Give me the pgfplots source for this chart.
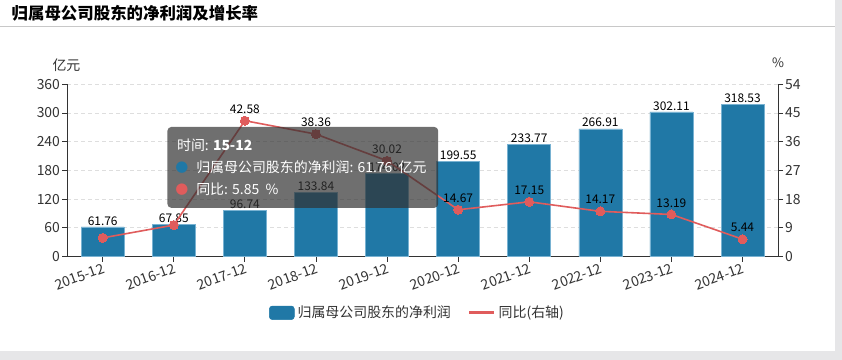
\documentclass[border=0pt]{standalone}
\usepackage{fontspec}
\setmainfont{Noto Sans CJK SC}
\newfontfamily\symfont{DejaVu Sans}
\usepackage{pgfplots}
\usepackage{pgfplotstable}
\pgfplotsset{compat=1.18}
\definecolor{barblue}{RGB}{32,120,166}
\definecolor{baredge}{RGB}{120,178,210}
\definecolor{linered}{RGB}{224,92,92}
\definecolor{axisgray}{RGB}{51,51,51}
\definecolor{gridgray}{RGB}{222,222,222}
\definecolor{bggray}{RGB}{230,230,232}
\definecolor{titleline}{RGB}{200,200,200}
\definecolor{tipgray}{RGB}{50,50,50}

\pgfplotstableread{
x val
0 61.76
1 67.85
2 96.74
3 133.84
4 174.02
5 199.55
6 233.77
7 266.91
8 302.11
9 318.53
}\profit

\pgfplotstableread{
x g
0 5.85
1 9.86
2 42.58
3 38.36
4 30.02
5 14.67
6 17.15
7 14.17
8 13.19
9 5.44
}\growth

\begin{document}
\begin{tikzpicture}[x=1bp,y=1bp]
\fill[white] (0,0) rectangle (842,360);
\fill[bggray] (0,0) rectangle (842,8.3);
\fill[bggray] (835,0) rectangle (842,360);
\draw[titleline, line width=1bp] (0,333.3) -- (835,333.3);
\node[anchor=west, inner sep=0, font=\fontsize{16.5}{18}\selectfont\bfseries] at (11,347) {归属母公司股东的净利润及增长率};

\pgfplotsset{
  common/.style={
    at={(66.7bp,103.3bp)}, anchor=south west,
    scale only axis, width=711.3bp, height=172.4bp,
    xmin=-0.5, xmax=9.5,
    clip=false,
    axis line style={-, axisgray, line width=0.8bp},
    tick style={axisgray, line width=0.8bp},
    major tick length=5bp,
    tick align=outside,
    /pgf/number format/assume math mode=true,
    ticklabel style={font=\fontsize{14}{16}\selectfont, text=axisgray},
  }
}

\begin{axis}[
  common,
  ymin=0, ymax=360,
  ytick={0,60,...,360},
  xtick={0,...,9},
  xticklabels={2015-12,2016-12,2017-12,2018-12,2019-12,2020-12,2021-12,2022-12,2023-12,2024-12},
  axis x line*=bottom, axis y line*=left,
  ymajorgrids,
  grid style={gridgray, dash pattern=on 4bp off 3bp, line width=0.8bp},
  xticklabel style={rotate=20, anchor=north east, inner sep=1bp},
  yticklabel style={inner sep=2bp},
  legend style={at={(0.4935,-0.3266)}, anchor=center, draw=none, fill=none,
    legend columns=2,
    font=\fontsize{14}{16}\selectfont, text=axisgray,
    /tikz/every even column/.append style={column sep=14bp},
    nodes={inner sep=3bp}},
  legend cell align=left,
]
\addplot[ybar, bar width=43bp, fill=barblue, draw=baredge, line width=0.5bp,
  nodes near coords,
  every node near coord/.append style={font=\fontsize{12}{14}\selectfont, text=black, inner sep=0pt, anchor=south, yshift=1.5bp},
  legend image code/.code={\fill[barblue, rounded corners=3bp] (0bp,-6.8bp) rectangle (25bp,6.8bp);}
  ] table[x=x,y=val]{\profit};
\addlegendentry{归属母公司股东的净利润}
\addlegendimage{legend image code/.code={\draw[linered, line width=2.8bp] (0bp,0bp) -- (25bp,0bp);}}
\addlegendentry{同比(右轴)}
\end{axis}

\begin{axis}[
  common,
  ymin=0, ymax=54,
  ytick={0,9,...,54},
  axis y line*=right, axis x line=none,
  yticklabel style={inner sep=2bp},
]
\addplot[linered, line width=1.6bp, mark=*, mark size=4.5bp,
  mark options={fill=linered, draw=linered, line width=0bp}
  ] table[x=x,y=g]{\growth};
\addplot[draw=none, mark=none, skip coords between index={0}{2},
  nodes near coords,
  every node near coord/.append style={font=\fontsize{12}{14}\selectfont, text=black, inner sep=0pt, anchor=south, yshift=7bp}
  ] table[x=x,y=g]{\growth};
\end{axis}

\node[font=\fontsize{14}{16}\selectfont, text=axisgray] at (66,295) {亿元};
\node[font=\fontsize{13}{15}\selectfont, text=axisgray] at (778,297) {\%};

% tooltip overlay
\fill[tipgray, fill opacity=0.7, rounded corners=4bp] (167,152) rectangle (438,233);
\node[anchor=west, inner sep=0, text=white, font=\fontsize{14}{16}\selectfont] at (176.5,215) {时间: \textbf{15-12}};
\node[anchor=center, inner sep=0, text=barblue, font=\symfont\fontsize{15}{16}\selectfont] at (181.5,192.7) {●};
\node[anchor=west, inner sep=0, text=white, font=\fontsize{14}{16}\selectfont] at (195.7,192.7) {归属母公司股东的净利润: 61.76\ \ 亿元};
\node[anchor=center, inner sep=0, text=linered, font=\symfont\fontsize{15}{16}\selectfont] at (181.5,170.7) {●};
\node[anchor=west, inner sep=0, text=white, font=\fontsize{14}{16}\selectfont] at (195.7,170.7) {同比: 5.85\ \ \%};
\end{tikzpicture}
\end{document}
